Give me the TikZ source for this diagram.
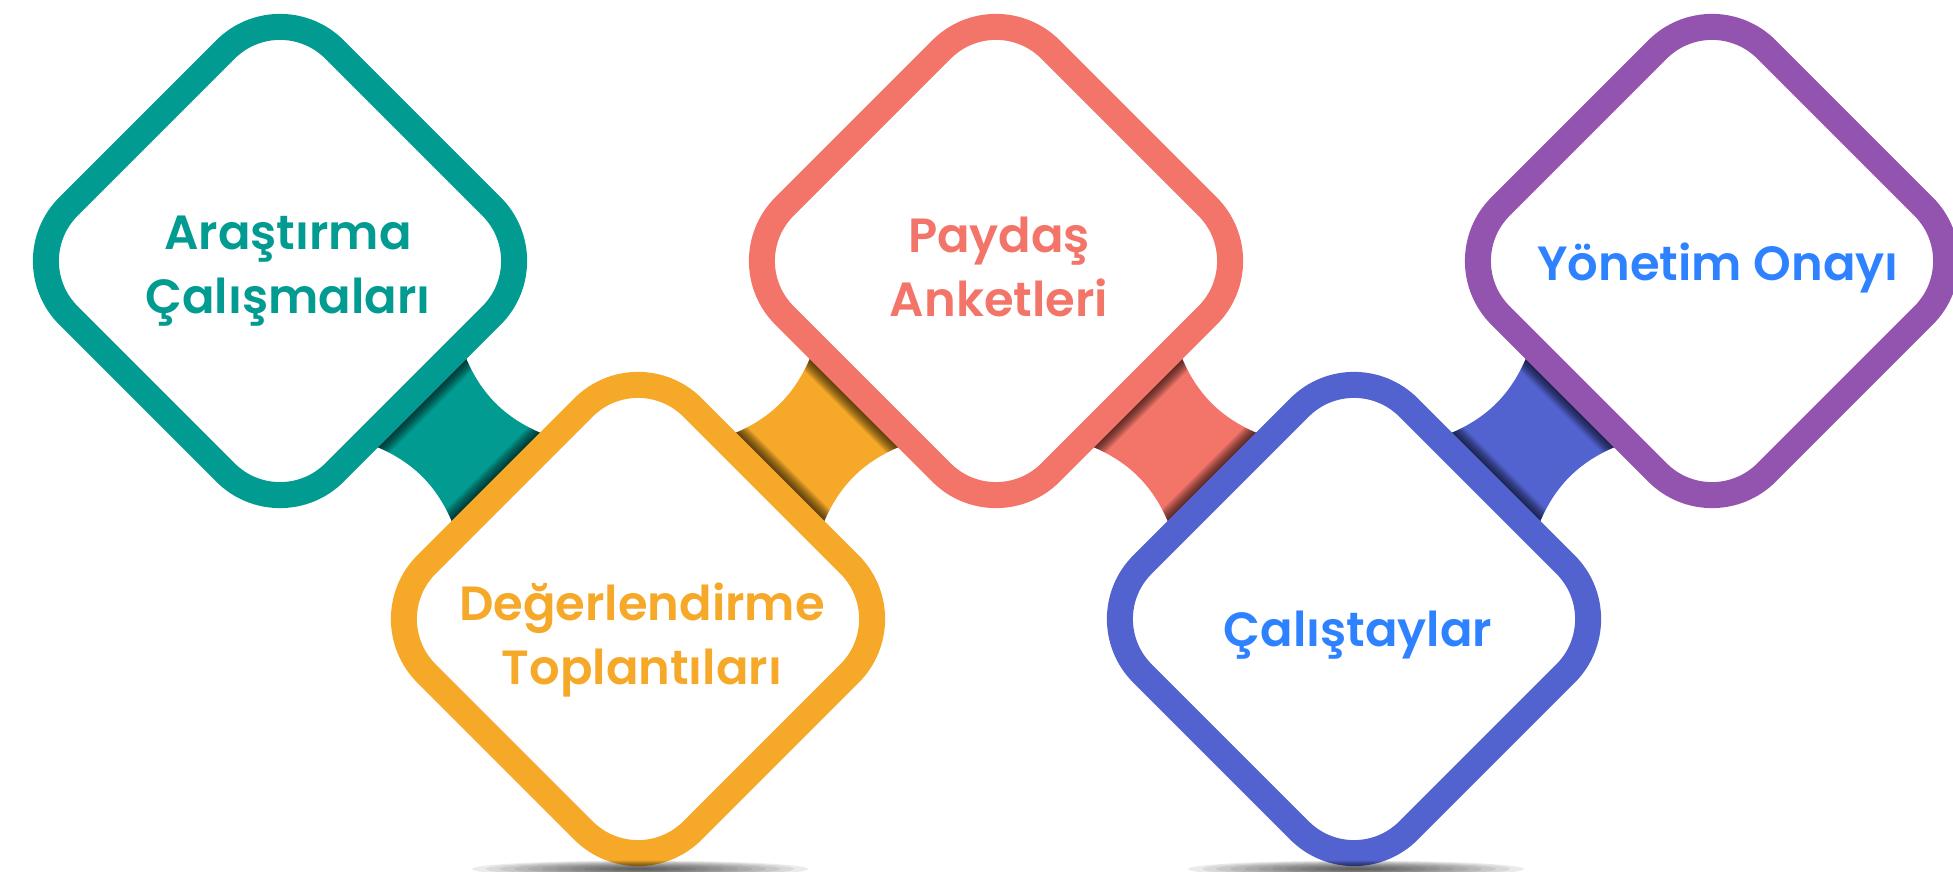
\documentclass[tikz,border=0pt]{standalone}
\usepackage{fontspec}
\setmainfont{Poppins}[BoldFont={Poppins SemiBold}]
\usetikzlibrary{shapes.geometric,calc,backgrounds}

\definecolor{tealc}{HTML}{029B92}
\definecolor{orangec}{HTML}{F6A928}
\definecolor{salmonc}{HTML}{F37468}
\definecolor{indigoc}{HTML}{5263D0}
\definecolor{purplec}{HTML}{9254AE}
\definecolor{bluetext}{HTML}{2E82FF}

\tikzset{
	stepbox/.style={diamond, draw=#1, fill=white, line width=26pt,
		minimum width=532pt, minimum height=532pt, rounded corners=77pt,
		inner sep=0pt, outer sep=0pt},
	steptext/.style={font=\bfseries\fontsize{48}{64}\selectfont, align=center, text=#1},
}

\begin{document}
\begin{tikzpicture}[x=1pt,y=1pt]
	\useasboundingbox (0,0) rectangle (1953,871);
	% the five steps
	\node[stepbox=tealc] (d1) at (280,610) {};
	\node[stepbox=orangec] (d2) at (638,252) {};
	\node[stepbox=salmonc] (d3) at (996,610) {};
	\node[stepbox=indigoc] (d4) at (1354,252) {};
	\node[stepbox=purplec] (d5) at (1712,610) {};
	\node[steptext=tealc] (t1) at ($(d1)+(8,-10)$) {Araştırma\\Çalışmaları};
	\node[steptext=orangec] (t2) at ($(d2)+(4,-21)$) {Değerlendirme\\Toplantıları};
	\node[steptext=salmonc] (t3) at ($(d3)+(3,-6)$) {Paydaş\\Anketleri};
	\node[steptext=bluetext] (t4) at ($(d4)+(4,-16)$) {Çalıştaylar};
	\node[steptext=bluetext] (t5) at ($(d5)+(6,-7)$) {Yönetim Onayı};
	% ribbons between the steps
	\begin{scope}[on background layer]
	\foreach \a/\b/\c in {d1.south east/d2.north west/tealc, d2.north east/d3.south west/orangec,
		d3.south east/d4.north west/salmonc, d4.north east/d5.south west/indigoc}{
		\coordinate (p1) at ($(\a)!68pt!90:(\b)$);
		\coordinate (p2) at ($(\b)!68pt!-90:(\a)$);
		\coordinate (p3) at ($(\b)!68pt!90:(\a)$);
		\coordinate (p4) at ($(\a)!68pt!-90:(\b)$);
		\fill[\c] (p1) to[bend right=25] (p2) -- (p3) to[bend right=25] (p4) -- cycle;
		\begin{scope}
			\clip (p1) to[bend right=25] (p2) -- (p3) to[bend right=25] (p4) -- cycle;
			\foreach \k in {2,4,...,24}
				\draw[black, opacity=0.07, line width={(26+\k)*1pt}]
					($(\a)!100pt!90:(\b)$) -- ($(\a)!100pt!-90:(\b)$)
					($(\b)!100pt!90:(\a)$) -- ($(\b)!100pt!-90:(\a)$);
		\end{scope}
	}
	\end{scope}
	% floor shadows
	\foreach \d in {d2,d4}
		\foreach \k in {1,...,12}
			\fill[black, opacity=0.08] ($(\d)+(2,-250)$) ellipse ({14*\k} and {0.7*\k});
\end{tikzpicture}
\end{document}
